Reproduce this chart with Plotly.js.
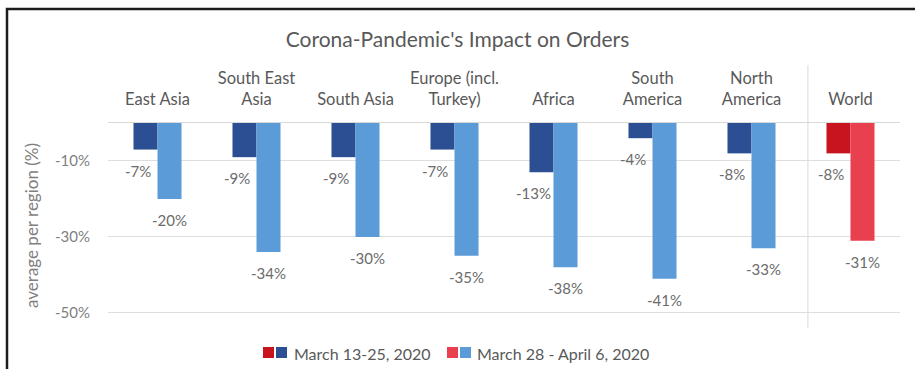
<!DOCTYPE html>
<html>
<head>
<meta charset="utf-8">
<script src="https://cdn.plot.ly/plotly-3.0.1.min.js"></script>
<style>
  html, body { margin: 0; padding: 0; background: #ffffff; }
  #chart { width: 915px; height: 369px; }
</style>
</head>
<body>
<div id="chart"></div>
<script>
// ---- data ----
const categories = ['East Asia', 'South East Asia', 'South Asia', 'Europe (incl. Turkey)', 'Africa', 'South America', 'North America', 'World'];
const tickLabels = ['East Asia', 'South East<br>Asia', 'South Asia', 'Europe (incl.<br>Turkey)', 'Africa', 'South<br>America', 'North<br>America', 'World'];
const seriesNames = ['March 13-25, 2020', 'March 28 - April 6, 2020'];
const march13to25 = [-7, -9, -9, -7, -13, -4, -8, -8];
const march28toApr6 = [-20, -34, -30, -35, -38, -41, -33, -31];
const yTickVals = [-10, -30, -50];
const yTickText = ['-10%', '-30%', '-50%'];

// ---- styles ----
const FONT = 'Lato, "Open Sans", sans-serif';
const darkBlue = '#2b4f92', lightBlue = '#5a9bd8';
const darkRed = '#c8141e', lightRed = '#e9404f';
const isWorld = c => c === 'World';

// pixel helpers for layout decorations (plot area: x 108..900, y 123..328)
const L = 108, R = 900, T = 123, B = 328;
const px = x => (x - L) / (R - L);
const py = y => (B - y) / (B - T);

const traces = [
  {
    type: 'bar', name: seriesNames[0], x: categories, y: march13to25,
    marker: { color: categories.map(c => isWorld(c) ? darkRed : darkBlue) },
    hoverinfo: 'x+y'
  },
  {
    type: 'bar', name: seriesNames[1], x: categories, y: march28toApr6,
    marker: { color: categories.map(c => isWorld(c) ? lightRed : lightBlue) },
    hoverinfo: 'x+y'
  }
];

const annotations = [];
const off = 0.1212;
march13to25.forEach((v, i) => annotations.push({
  x: i - off, y: v, xref: 'x', yref: 'y', text: v + '%', showarrow: false,
  xshift: -8, yshift: -21, font: { family: FONT, size: 15, color: '#6b6b6b' }
}));
march28toApr6.forEach((v, i) => annotations.push({
  x: i + off, y: v, xref: 'x', yref: 'y', text: v + '%', showarrow: false,
  yshift: -21, font: { family: FONT, size: 15, color: '#6b6b6b' }
}));

// legend (two-colour swatches)
const legendItems = [
  { sw: [263, 276], textX: 292, colors: [darkRed, darkBlue], text: seriesNames[0] },
  { sw: [447, 460], textX: 475, colors: [lightRed, lightBlue], text: seriesNames[1] }
];
const shapes = [];
legendItems.forEach(it => {
  it.sw.forEach((sx, k) => shapes.push({
    type: 'rect', xref: 'paper', yref: 'paper',
    x0: px(sx), x1: px(sx + 11), y0: py(358), y1: py(347),
    fillcolor: it.colors[k], line: { width: 0 }
  }));
  annotations.push({
    xref: 'paper', yref: 'paper', x: px(it.textX), y: py(353),
    xanchor: 'left', yanchor: 'middle', showarrow: false, text: it.text,
    font: { family: FONT, size: 16, color: '#595959' }
  });
});

// separator before "World"
shapes.push({
  type: 'line', xref: 'x', yref: 'paper', x0: 6.57, x1: 6.57, y0: 0, y1: py(65),
  line: { color: '#d9d9d9', width: 1 }
});
// outer frame
shapes.push({
  type: 'rect', xref: 'paper', yref: 'paper',
  x0: px(7), x1: px(940), y0: py(400), y1: py(9),
  line: { color: '#1c1c1c', width: 2.5 }, fillcolor: 'rgba(0,0,0,0)'
});

const layout = {
  width: 915, height: 369,
  margin: { l: L, r: 915 - R, t: T, b: 369 - B, pad: 0 },
  paper_bgcolor: '#ffffff', plot_bgcolor: '#ffffff',
  showlegend: false,
  barmode: 'group', bargap: 0.515, bargroupgap: 0,
  title: {
    text: "Corona-Pandemic's Impact on Orders",
    x: 0.5, xref: 'container', xanchor: 'center',
    y: 1 - 40 / 369, yref: 'container', yanchor: 'middle',
    font: { family: FONT, size: 21, color: '#595959' }
  },
  xaxis: {
    side: 'top', type: 'category',
    tickvals: categories, ticktext: tickLabels,
    ticks: '', ticklabelstandoff: 10,
    showline: true, linecolor: '#d9d9d9', linewidth: 1,
    showgrid: false, zeroline: false, fixedrange: true,
    tickfont: { family: FONT, size: 16.5, color: '#595959' }
  },
  yaxis: {
    range: [-54, 0], tickvals: yTickVals, ticktext: yTickText,
    showgrid: true, gridcolor: '#dedede', gridwidth: 1,
    zeroline: false, showline: false, ticks: '', ticklabelstandoff: 17,
    tickfont: { family: FONT, size: 15, color: '#7f7f7f' },
    title: { text: 'average per region (%)', standoff: 12,
             font: { family: FONT, size: 17, color: '#7f7f7f' } },
    fixedrange: true
  },
  annotations: annotations,
  shapes: shapes,
  font: { family: FONT }
};

Plotly.newPlot('chart', traces, layout, { displayModeBar: false, staticPlot: true });
</script>
</body>
</html>
